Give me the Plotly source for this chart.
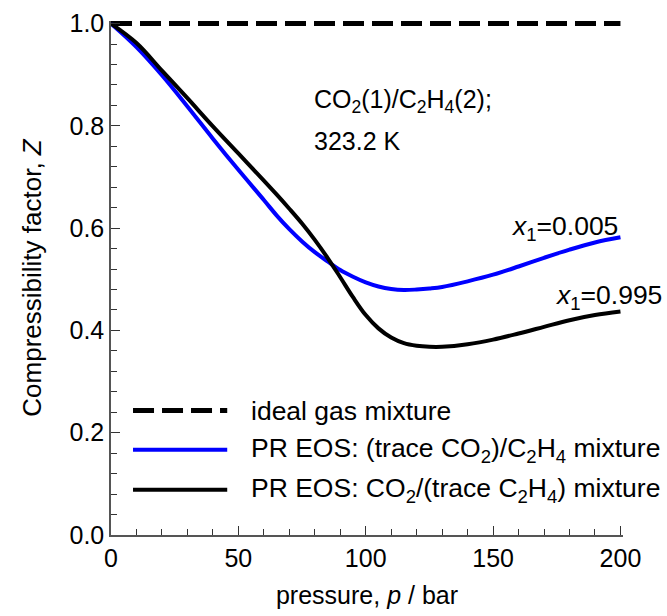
import plotly.graph_objects as go

# Pressure grid (bar) and compressibility factors from the PR EOS curves
pressure = [0, 10, 20, 30, 40, 50, 60, 65, 70, 75, 80, 85, 90, 95, 100, 105, 110,
            115, 120, 125, 130, 140, 150, 160, 170, 180, 190, 200]
z_trace_co2 = [1.000, 0.954, 0.899, 0.838, 0.775, 0.714, 0.655, 0.625, 0.598,
               0.574, 0.553, 0.535, 0.518, 0.505, 0.494, 0.486, 0.481, 0.479,
               0.480, 0.482, 0.485, 0.496, 0.509, 0.525, 0.542, 0.558, 0.572, 0.582]
z_trace_c2h4 = [1.000, 0.962, 0.908, 0.854, 0.799, 0.746, 0.693, 0.666, 0.638,
                0.609, 0.577, 0.542, 0.504, 0.465, 0.430, 0.404, 0.386, 0.375,
                0.370, 0.368, 0.368, 0.373, 0.382, 0.394, 0.407, 0.420, 0.430, 0.437]
ideal_p = [0, 200]
ideal_z = [1.0, 1.0]

legend_labels = [
    "ideal gas mixture",
    "PR EOS: (trace CO<sub>2</sub>)/C<sub>2</sub>H<sub>4</sub> mixture",
    "PR EOS: CO<sub>2</sub>/(trace C<sub>2</sub>H<sub>4</sub>) mixture",
]

FONT = "Liberation Sans, Arial, sans-serif"
FS = 25
FS_TEXT = 26.5
DASH = "21px,8px"

fig = go.Figure()
fig.add_trace(go.Scatter(x=ideal_p, y=ideal_z, mode="lines",
                         line=dict(color="black", width=5, dash=DASH)))
fig.add_trace(go.Scatter(x=pressure, y=z_trace_co2, mode="lines",
                         line=dict(color="#0000ff", width=4, shape="spline")))
fig.add_trace(go.Scatter(x=pressure, y=z_trace_c2h4, mode="lines",
                         line=dict(color="black", width=4, shape="spline")))

# Hand-drawn legend inside the plot area
legend_rows = [0.242, 0.166, 0.088]
legend_styles = [dict(color="black", width=5, dash=DASH),
                 dict(color="#0000ff", width=4),
                 dict(color="black", width=4)]
for yy, st, lab in zip(legend_rows, legend_styles, legend_labels):
    fig.add_shape(type="line", xref="paper", yref="paper",
                  x0=0.043, x1=0.227, y0=yy, y1=yy, line=st)
    fig.add_annotation(xref="paper", yref="paper", x=0.269, y=yy, text=lab,
                       showarrow=False, xanchor="left", yanchor="middle",
                       font=dict(family=FONT, size=FS_TEXT, color="black"))

fig.add_annotation(x=79, y=0.848, text="CO<sub>2</sub>(1)/C<sub>2</sub>H<sub>4</sub>(2);",
                   showarrow=False, xanchor="left", yanchor="middle",
                   font=dict(family=FONT, size=FS, color="black"))
fig.add_annotation(x=79, y=0.77, text="323.2 K",
                   showarrow=False, xanchor="left", yanchor="middle",
                   font=dict(family=FONT, size=FS, color="black"))
fig.add_annotation(x=pressure[-1], y=z_trace_co2[-1], text="<i>x</i><sub>1</sub>=0.005",
                   showarrow=False, xanchor="right", yanchor="bottom", yshift=-10,
                   font=dict(family=FONT, size=FS_TEXT, color="black"))
fig.add_annotation(x=pressure[-1], y=z_trace_c2h4[-1], text="<i>x</i><sub>1</sub>=0.995",
                   showarrow=False, xanchor="right", yanchor="bottom", xshift=44, yshift=-4,
                   font=dict(family=FONT, size=FS_TEXT, color="black"))

axis_common = dict(showgrid=False, zeroline=False, showline=True, linecolor="#555555",
                   linewidth=1.5, ticks="inside", ticklen=9, tickcolor="#333333",
                   tickwidth=1, mirror=False, automargin=False,
                   tickfont=dict(family=FONT, size=FS, color="black"))
# ranges padded a hair so the thick lines at Z = 1 and p = 200 are not clipped
fig.update_xaxes(range=[0, 201], tickvals=[0, 50, 100, 150, 200],
                 minor=dict(tickvals=list(range(10, 200, 10)), ticks="inside",
                            ticklen=6, tickcolor="#333333"),
                 title=dict(text="pressure, <i>p</i> / bar", standoff=16,
                            font=dict(family=FONT, size=FS, color="black")),
                 **axis_common)
fig.update_yaxes(range=[0, 1.005], tickvals=[0, 0.2, 0.4, 0.6, 0.8, 1.0], tickformat=".1f",
                 minor=dict(tickvals=[i * 0.04 for i in range(1, 25)], ticks="inside",
                            ticklen=6, tickcolor="#333333"),
                 title=dict(text="Compressibility factor, <i>Z</i>", standoff=20,
                            font=dict(family=FONT, size=26, color="black")),
                 **axis_common)
fig.update_layout(width=667, height=616, showlegend=False,
                  plot_bgcolor="white", paper_bgcolor="white",
                  margin=dict(l=111, r=44, t=21, b=81))
fig.write_html("out.html")
